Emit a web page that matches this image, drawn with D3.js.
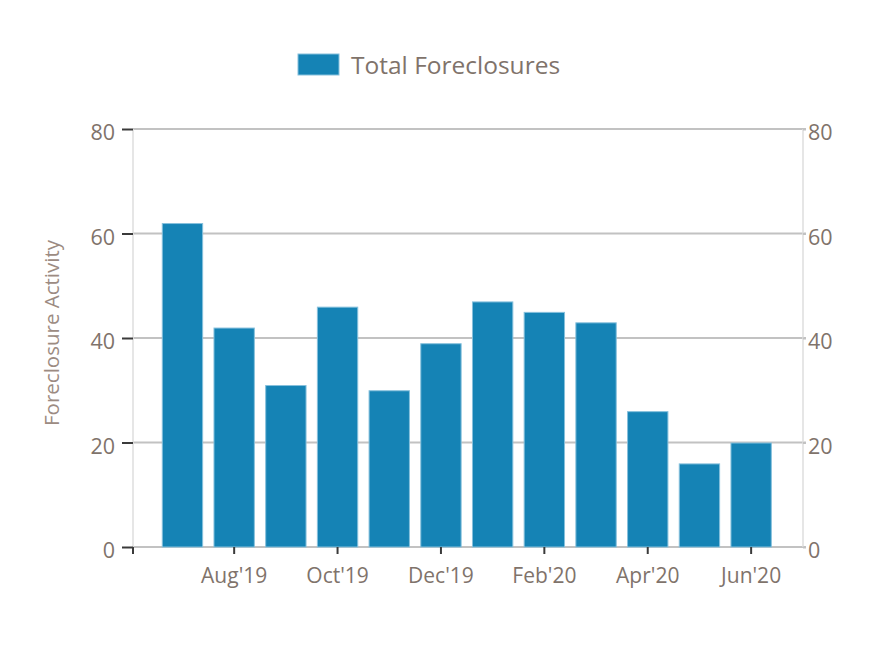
<!DOCTYPE html>
<html>
<head>
<meta charset="utf-8">
<script src="https://cdn.jsdelivr.net/npm/d3@7"></script>
<style>
  html, body { margin: 0; padding: 0; background: #ffffff; }
  svg { display: block; }
  text { font-family: "Open Sans", "DejaVu Sans", sans-serif; }
</style>
</head>
<body>
<svg id="chart" width="896" height="650"></svg>
<script>
const months = ["Jul'19","Aug'19","Sep'19","Oct'19","Nov'19","Dec'19","Jan'20","Feb'20","Mar'20","Apr'20","May'20","Jun'20"];
const foreclosures = [62, 42, 31, 46, 30, 39, 47, 45, 43, 26, 16, 20];
const xTickLabels = ["Aug'19","Oct'19","Dec'19","Feb'20","Apr'20","Jun'20"];
const yTicks = [0, 20, 40, 60, 80];
const seriesName = "Total Foreclosures";
const yTitle = "Foreclosure Activity";

(function () {
const svg = d3.select("#chart");
const pL = 133, pR = 803, pT = 129, pB = 547;
const textColor = "#7f736b";

const x = d3.scaleBand().domain(months).range([pL, pR])
  .paddingInner(0.2).paddingOuter(0.58).align(0.48);
const y = d3.scaleLinear().domain([0, 80]).range([pB, pT]);

// gridlines
svg.append("g").selectAll("line").data(yTicks).join("line")
  .attr("x1", pL).attr("x2", pR + 3)
  .attr("y1", d => y(d)).attr("y2", d => y(d))
  .attr("stroke", "#c2c2c2").attr("stroke-width", 2);

// vertical axis lines
svg.append("line").attr("x1", pL).attr("x2", pL).attr("y1", pT).attr("y2", pB)
  .attr("stroke", "#dedede").attr("stroke-width", 1.5);
svg.append("line").attr("x1", pR).attr("x2", pR).attr("y1", pT).attr("y2", pB)
  .attr("stroke", "#dedede").attr("stroke-width", 1.5);

// bars
svg.append("g").selectAll("rect").data(months).join("rect")
  .attr("x", d => x(d) + 0.5)
  .attr("y", (d, i) => y(foreclosures[i]) + 0.5)
  .attr("width", x.bandwidth() - 1)
  .attr("height", (d, i) => y(0) - y(foreclosures[i]) - 0.5)
  .attr("fill", "#1583b5")
  .attr("stroke", "#86c0dc").attr("stroke-width", 1);

// left axis
const yAxisL = svg.append("g").attr("transform", `translate(${pL},0)`)
  .call(d3.axisLeft(y).tickValues(yTicks).tickSize(11).tickPadding(7).tickFormat(d3.format("d")));
yAxisL.select(".domain").remove();
yAxisL.selectAll(".tick line").attr("stroke", "#3a3a3a").attr("stroke-width", 2);
yAxisL.selectAll(".tick text").attr("fill", textColor).attr("font-size", 21.5)
  .attr("dy", "0.5em");

// right axis
const yAxisR = svg.append("g").attr("transform", `translate(${pR},0)`)
  .call(d3.axisRight(y).tickValues(yTicks).tickSize(3).tickPadding(2).tickFormat(d3.format("d")));
yAxisR.select(".domain").remove();
yAxisR.selectAll(".tick line").attr("stroke", "#c2c2c2").attr("stroke-width", 2);
yAxisR.selectAll(".tick text").attr("fill", textColor).attr("font-size", 21.5)
  .attr("dy", "0.5em");

// bottom axis
const xAxis = svg.append("g").attr("transform", `translate(0,${pB})`)
  .call(d3.axisBottom(x).tickValues(xTickLabels).tickSize(7).tickPadding(14));
xAxis.select(".domain").remove();
xAxis.selectAll(".tick line").attr("stroke", "#3a3a3a").attr("stroke-width", 2);
xAxis.selectAll(".tick text").attr("fill", textColor).attr("font-size", 21);
// left corner tick
svg.append("line").attr("x1", pL).attr("x2", pL).attr("y1", pB).attr("y2", pB + 7)
  .attr("stroke", "#3a3a3a").attr("stroke-width", 2);

// y title
svg.append("text")
  .attr("transform", `translate(59,${(pT + pB) / 2 - 5}) rotate(-90)`)
  .attr("text-anchor", "middle")
  .attr("fill", "#9c8b82").attr("font-size", 20.5)
  .text(yTitle);

// legend
const legend = svg.append("g");
legend.append("rect").attr("x", 298).attr("y", 54).attr("width", 41).attr("height", 21)
  .attr("fill", "#1583b5").attr("stroke", "#86c0dc").attr("stroke-width", 1);
legend.append("text").attr("x", 351).attr("y", 74)
  .attr("fill", textColor).attr("font-size", 24.5)
  .text(seriesName);
})();
</script>
</body>
</html>
